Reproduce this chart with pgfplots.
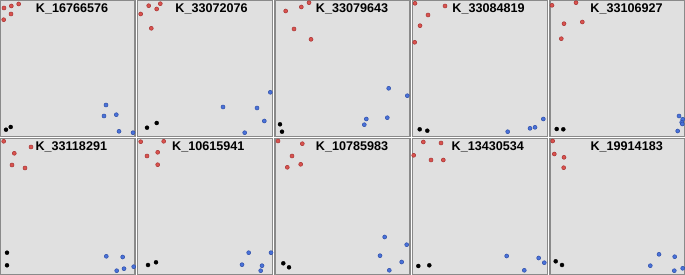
\documentclass[border=0pt]{standalone}
\usepackage{pgfplots}
\pgfplotsset{compat=1.18}
\usepackage{fontspec}
\setmainfont{Liberation Sans}
\definecolor{bgcol}{HTML}{E0E0E0}
\definecolor{bordercol}{HTML}{8A8A8A}
\definecolor{redpt}{HTML}{D9534F}
\definecolor{rededge}{HTML}{A83232}
\definecolor{bluept}{HTML}{4A72D9}
\definecolor{blueedge}{HTML}{2F4FA8}
\pgfplotsset{
  panel/.style={
    anchor=south west, scale only axis,
    width=135bp, height=136.5bp,
    xmin=0, xmax=135, ymin=0, ymax=136.5,
    xtick=\empty, ytick=\empty,
    axis background/.style={fill=bgcol},
    axis line style={bordercol, line width=1.1bp},
    clip=false,
  },
  redm/.style={only marks, mark=*, mark size=2bp, mark options={fill=redpt, draw=rededge, line width=0.5bp}},
  bluem/.style={only marks, mark=*, mark size=2bp, mark options={fill=bluept, draw=blueedge, line width=0.5bp}},
  blackm/.style={only marks, mark=*, mark size=2bp, mark options={fill=black, draw=black}},
}
\newcommand{\ptitle}[2]{\node[font=\fontsize{12.6bp}{14bp}\selectfont\bfseries, anchor=center] at (axis cs:#1,128) {#2};}
\begin{document}
\begin{tikzpicture}
\useasboundingbox (0,0) rectangle (685bp,275bp);
% Row 1
\begin{axis}[panel, at={(0bp,138.5bp)}]
\addplot[redm] coordinates {(4,128.5) (11.3,130.5) (18.7,132.5) (11,122.5) (3.7,116.8)};
\addplot[bluem] coordinates {(106,31.5) (116.3,21.8) (104,20.5) (119,5.2) (133,3.8)};
\addplot[blackm] coordinates {(6,6.8) (10.7,9.5)};
\ptitle{72}{K\_16766576}
\end{axis}
\begin{axis}[panel, at={(137.5bp,138.5bp)}]
\addplot[redm] coordinates {(11.2,130.8) (22.8,132.8) (19.2,127.5) (3.2,122.5) (13.8,108.2)};
\addplot[bluem] coordinates {(132.8,44.2) (85.5,29.5) (119.5,28.5) (126.8,15.5) (107.2,3.8)};
\addplot[blackm] coordinates {(9.5,8.8) (19.2,13.5)};
\ptitle{74}{K\_33072076}
\end{axis}
\begin{axis}[panel, at={(275bp,138.5bp)}]
\addplot[redm] coordinates {(10.7,125.5) (26.3,129.5) (34,133.8) (19,107.5) (36,97.2)};
\addplot[bluem] coordinates {(113.7,48.2) (132.3,40.8) (91.3,17.5) (112.3,18.8) (89.3,11.8)};
\addplot[blackm] coordinates {(5,12.2) (7,4.8)};
\ptitle{77}{K\_33079643}
\end{axis}
\begin{axis}[panel, at={(412.5bp,138.5bp)}]
\addplot[redm] coordinates {(2.5,133.2) (32.5,130.5) (15.5,121.5) (7.5,110.8) (2.2,94.2)};
\addplot[bluem] coordinates {(130.8,17.5) (122.5,9.2) (117.5,8.2) (95.2,4.8)};
\addplot[blackm] coordinates {(7.2,7.2) (14.8,5.8)};
\ptitle{76}{K\_33084819}
\end{axis}
\begin{axis}[panel, at={(550bp,138.5bp)}]
\addplot[redm] coordinates {(2,131.2) (26,133.8) (14,112.8) (32.3,114.5) (11.3,97.8)};
\addplot[bluem] coordinates {(129,20.5) (132.7,17.2) (131.7,14.2) (132.3,12.5) (127.7,5.5)};
\addplot[blackm] coordinates {(6.7,7.5) (13.3,7.2)};
\ptitle{76.5}{K\_33106927}
\end{axis}
% Row 2
\begin{axis}[panel, at={(0bp,0bp)}]
\addplot[redm] coordinates {(3.7,133.7) (31,128) (14.3,121.7) (12,110) (25,107)};
\addplot[bluem] coordinates {(106.3,18.7) (122.7,18) (133.7,8.3) (124,6.3) (116.7,4.3)};
\addplot[blackm] coordinates {(7,22.3) (7,9.7)};
\ptitle{71.3}{K\_33118291}
\end{axis}
\begin{axis}[panel, at={(137.5bp,0bp)}]
\addplot[redm] coordinates {(3.2,133.3) (26.2,133.7) (20.2,122.7) (9.5,119) (20.2,110.3)};
\addplot[bluem] coordinates {(111.2,22.3) (133.5,22.3) (104.5,10.3) (124.5,9.3) (123.2,4.3)};
\addplot[blackm] coordinates {(10.5,10) (18.5,12.7)};
\ptitle{70.8}{K\_10615941}
\end{axis}
\begin{axis}[panel, at={(275bp,0bp)}]
\addplot[redm] coordinates {(3,134) (27.3,131.3) (17,119) (12.3,107.7) (25.7,110.7)};
\addplot[bluem] coordinates {(109.7,38) (131.7,30.3) (105,19.3) (126.7,13) (114.3,4.7)};
\addplot[blackm] coordinates {(8.3,11.7) (14,7.7)};
\ptitle{77}{K\_10785983}
\end{axis}
\begin{axis}[panel, at={(412.5bp,0bp)}]
\addplot[redm] coordinates {(10.8,133) (28.5,132) (1.2,119.7) (18.5,115) (30.8,115)};
\addplot[bluem] coordinates {(94.2,19) (126.2,17) (131.8,12.3) (111.8,4.7)};
\addplot[blackm] coordinates {(5.8,9) (16.8,9.7)};
\ptitle{75.3}{K\_13430534}
\end{axis}
\begin{axis}[panel, at={(550bp,0bp)}]
\addplot[redm] coordinates {(2.7,134) (4.3,121) (14,117.7) (13.7,107.3)};
\addplot[bluem] coordinates {(109,20.7) (124.7,18.3) (100.3,9.3) (124.3,4.3) (132.7,6.7)};
\addplot[blackm] coordinates {(5.7,13.7) (12,10)};
\ptitle{76.7}{K\_19914183}
\end{axis}
\end{tikzpicture}
\end{document}
